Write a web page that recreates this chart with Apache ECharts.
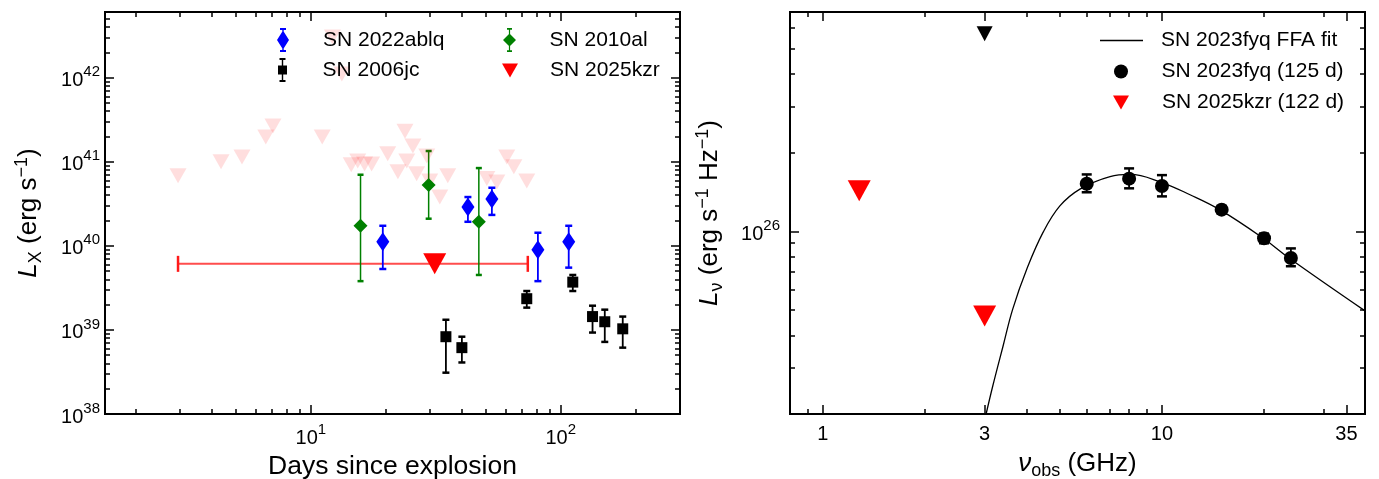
<!DOCTYPE html>
<html>
<head>
<meta charset="utf-8">
<script src="https://cdn.jsdelivr.net/npm/echarts@6/dist/echarts.min.js"></script>
<style>
html, body { margin: 0; padding: 0; background: #fff; }
#main { width: 1379px; height: 479px; }
</style>
</head>
<body>
<div id="main"></div>
<script>
// ---- left panel: X-ray luminosity vs days ----
var ablqDays = [19.4, 42.5, 53, 81, 107.6];
var ablqLum = [1.12e40, 2.9e40, 3.6e40, 9.0e39, 1.12e40];
var ablqLo = [5.3e39, 1.93e40, 2.33e40, 3.8e39, 5.5e39];
var ablqHi = [1.73e40, 3.8e40, 4.9e40, 1.43e40, 1.73e40];

var jcDays = [34.7, 40.2, 73.1, 111.7, 134, 150, 177];
var jcLum = [8.3e38, 6.15e38, 2.35e39, 3.7e39, 1.44e39, 1.25e39, 1.03e39];
var jcLo = [3.1e38, 4.1e38, 1.84e39, 2.9e39, 9.3e38, 7.2e38, 6.15e38];
var jcHi = [1.32e39, 8.3e38, 2.9e39, 4.5e39, 1.94e39, 1.74e39, 1.44e39];

var alDays = [15.8, 29.6, 47];
var alLum = [1.73e40, 5.3e40, 1.93e40];
var alLo = [3.8e39, 2.1e40, 4.5e39];
var alHi = [7.0e40, 1.34e41, 8.4e40];

var kzrDays = [31.3];
var kzrLum = [6.1e39];
var kzrDaysLo = [2.94];
var kzrDaysHi = [73.8];

// faint upper limits (other objects)
var limDays = [2.94, 4.37, 5.3, 6.6, 7.05, 11.1, 12.2, 13.3, 14.5, 15.4, 16.4, 17.5, 20.3, 22.3,
               23.8, 25.6, 24.2, 29.1, 26.5, 29.9, 35.3, 32.8, 50.6, 55.5, 60.8, 64.9, 73.1];
var limLum = [6.8e40, 1.0e41, 1.14e41, 1.97e41, 2.66e41, 1.97e41, 3.03e42, 1.1e42, 9.2e40, 1.02e41,
              9.4e40, 9.4e40, 1.24e41, 7.6e40, 2.3e41, 1.54e41, 1.02e41, 1.17e41, 7.2e40, 5.9e40,
              6.8e40, 3.8e40, 6.3e40, 5.75e40, 1.14e41, 8.7e40, 5.9e40];

// ---- right panel: radio SED ----
var fitNu = [3.03, 3.17, 3.40, 3.63, 4.0, 4.46, 5.0, 5.73, 7.03, 8.05, 9.94, 12.1, 14.8, 19.9, 23.7, 39.7];
var fitLum = [2.0e25, 2.56e25, 3.64e25, 5.04e25, 7.2e25, 9.9e25, 1.25e26, 1.45e26, 1.62e26, 1.65e26,
              1.54e26, 1.38e26, 1.21e26, 9.4e25, 7.9e25, 4.96e25];

var fyqNu = [6, 8, 10, 15, 20, 24];
var fyqLum = [1.52e26, 1.59e26, 1.49e26, 1.21e26, 9.4e25, 7.9e25];
var fyqLo = [1.41e26, 1.46e26, 1.36e26, 1.17e26, 9.0e25, 7.35e25];
var fyqHi = [1.65e26, 1.74e26, 1.64e26, 1.25e26, 9.8e25, 8.6e25];

var fyqLimNu = [3];
var fyqLimLum = [5.7e26];

var kzrRadioNu = [1.28, 3];
var kzrRadioLum = [1.43e26, 4.74e25];

// ticks
var leftXMajor = [10, 100];
var leftYMajor = [1e38, 1e39, 1e40, 1e41, 1e42];
var rightXMajor = [1, 3, 10, 35];
var rightYMajor = [1e26];

var FONT = '"Liberation Sans", Arial, Helvetica, sans-serif';

function lg(v) { return Math.log10(v); }
function pts(xs, ys) { return xs.map(function (x, i) { return [lg(x), lg(ys[i])]; }); }
function vbars(xs, lo, hi) { return xs.map(function (x, i) { return [lg(x), lg(lo[i]), lg(hi[i])]; }); }
function logMinors(lo, hi) {
    var out = [];
    for (var e = Math.floor(lg(lo)); e <= Math.ceil(lg(hi)); e++) {
        for (var m = 2; m <= 9; m++) {
            var v = m * Math.pow(10, e);
            if (v > lo && v < hi) out.push(lg(v));
        }
    }
    return out;
}

var richTick = {
    b: { fontSize: 20, fontFamily: FONT, color: '#000', lineHeight: 26, verticalAlign: 'bottom' },
    s: { fontSize: 15, fontFamily: FONT, color: '#000', lineHeight: 15, verticalAlign: 'top' }
};
function powLabel(v) { return '{b|10}{s|' + Math.round(v) + '}'; }
function plainLabel(v) { return '{b|' + Math.round(Math.pow(10, v)) + '}'; }

var richName = {
    n: { fontSize: 26, fontFamily: FONT, color: '#000', lineHeight: 32 },
    i: { fontSize: 26, fontFamily: FONT, fontStyle: 'italic', color: '#000', lineHeight: 32 },
    sub: { fontSize: 18, fontFamily: FONT, color: '#000', verticalAlign: 'bottom', lineHeight: 24 },
    sup: { fontSize: 18, fontFamily: FONT, color: '#000', verticalAlign: 'top', lineHeight: 20 }
};

// 4 axes per side pair: major+minor on both sides (ticks pointing in)
function axes(dim, grid, min, max, major, minor, fmt, margin, nameCfg) {
    var sides = dim === 'x' ? ['bottom', 'top'] : ['left', 'right'];
    var out = [];
    sides.forEach(function (side, s) {
        [major, minor].forEach(function (vals, k) {
            var ax = {
                type: 'value', gridIndex: grid, position: side, min: min, max: max,
                axisLine: { show: false, onZero: false },
                splitLine: { show: false },
                axisTick: { show: true, inside: true, length: k === 0 ? 9 : 5, customValues: vals,
                            lineStyle: { color: '#000', width: 1.5 } },
                axisLabel: { show: s === 0 && k === 0, customValues: vals, formatter: fmt,
                             rich: richTick, margin: margin, color: '#000' },
                silent: true
            };
            if (s === 0 && k === 0 && nameCfg) Object.assign(ax, nameCfg);
            out.push(ax);
        });
    });
    return out;
}

function errRender(color, width, cap, capWidth, horizontal) {
    return function (params, api) {
        var a, b;
        if (horizontal) {
            a = api.coord([api.value(1), api.value(0)]);
            b = api.coord([api.value(2), api.value(0)]);
        } else {
            a = api.coord([api.value(0), api.value(1)]);
            b = api.coord([api.value(0), api.value(2)]);
        }
        var kids = [{ type: 'line', shape: { x1: a[0], y1: a[1], x2: b[0], y2: b[1] },
                      style: { stroke: color, lineWidth: width } }];
        [a, b].forEach(function (p) {
            kids.push({
                type: 'line',
                shape: horizontal ? { x1: p[0], y1: p[1] - cap, x2: p[0], y2: p[1] + cap }
                                  : { x1: p[0] - cap, y1: p[1], x2: p[0] + cap, y2: p[1] },
                style: { stroke: horizontal ? '#ff1a1a' : color, lineWidth: capWidth }
            });
        });
        return { type: 'group', children: kids };
    };
}

var ICON_BLUE = 'path://M3,0L9,0L9,2L3,2Z M3,22L9,22L9,24L3,24Z M5.3,0L6.7,0L6.7,24L5.3,24Z M6,2.5L12,12L6,21.5L0,12Z';
var ICON_BLACK = 'path://M2,0L8,0L8,2L2,2Z M2,22L8,22L8,24L2,24Z M4.3,0L5.7,0L5.7,24L4.3,24Z M0.5,7.5L9.5,7.5L9.5,16.5L0.5,16.5Z';
var ICON_GREEN = 'path://M4,0L9,0L9,1.8L4,1.8Z M4,22.2L9,22.2L9,24L4,24Z M5.9,0L7.1,0L7.1,24L5.9,24Z M6.5,5.5L13,12L6.5,18.5L0,12Z';
var ICON_TRI = 'path://M0,0L16,0L8,14Z';
var ICON_LINE = 'path://M0,0L43,0L43,1.3L0,1.3Z';

function oneLegend(name, icon, left, top, w, h, pad) {
    return {
        show: true, selectedMode: false, orient: 'vertical', padding: 0,
        left: left, top: top, itemWidth: w, itemHeight: h,
        data: [icon ? { name: name, icon: icon } : { name: name }],
        formatter: function (n) { return '{t|' + n + '}'; },
        textStyle: { rich: { t: { fontSize: 21, fontFamily: FONT, color: '#000', padding: [0, 0, 0, pad] } } }
    };
}

var xAxes = axes('x', 0, lg(1.5), lg(300), leftXMajor.map(lg), logMinors(1.5, 300), powLabel, 8, {
    name: 'Days since explosion', nameLocation: 'middle', nameGap: 36,
    nameTextStyle: { fontSize: 26.5, fontFamily: FONT, color: '#000' }
}).concat(axes('x', 1, lg(0.8), lg(39.7), rightXMajor.map(lg), logMinors(0.8, 39.7), plainLabel, 4, {
    name: '{i|ν}{sub|obs}{n| (GHz)}', nameLocation: 'middle', nameGap: 34,
    nameTextStyle: { rich: richName }
}));

var yAxes = axes('y', 0, 38, 42.78, leftYMajor.map(lg), logMinors(1e38, 6.0e42), powLabel, 5, {
    name: '{i|L}{sub|X}{n| (erg s}{sup|−1}{n|)}', nameLocation: 'middle', nameGap: 60,
    nameTextStyle: { rich: richName }
}).concat(axes('y', 1, lg(2e25), lg(6.9e26), rightYMajor.map(lg), logMinors(2e25, 6.9e26), powLabel, 10, {
    name: '{i|L}{sub|ν}{n| (erg s}{sup|−1}{n| Hz}{sup|−1}{n|)}', nameLocation: 'middle', nameGap: 64,
    nameTextStyle: { rich: richName }
}));

var option = {
    animation: false,
    backgroundColor: '#fff',
    textStyle: { fontFamily: FONT },
    grid: [
        { left: 105, top: 12, width: 575, height: 402, show: true, borderColor: '#000', borderWidth: 2,
          containLabel: false, outerBoundsMode: 'none' },
        { left: 790, top: 12, width: 575, height: 402, show: true, borderColor: '#000', borderWidth: 2,
          containLabel: false, outerBoundsMode: 'none' }
    ],
    xAxis: xAxes,
    yAxis: yAxes,
    legend: [
        oneLegend('SN 2022ablq', ICON_BLUE, 277, 28, 30, 24, 20),
        oneLegend('SN 2006jc', ICON_BLACK, 278, 58, 30, 24, 20),
        oneLegend('SN 2010al', ICON_GREEN, 503, 28, 30, 24, 20),
        oneLegend('SN 2025kzr', ICON_TRI, 502, 60, 30, 14, 20),
        oneLegend('SN 2023fyq FFA fit', ICON_LINE, 1100, 30, 43, 14, 13),
        oneLegend('SN 2023fyq (125 d)', null, 1114, 61, 29, 14, 21),
        oneLegend('SN 2025kzr (122 d)', ICON_TRI, 1113, 92, 30, 14, 21)
    ],
    series: [
        { name: 'limits', type: 'scatter', xAxisIndex: 0, yAxisIndex: 0, symbol: 'triangle', symbolRotate: 180,
          symbolSize: [17, 15], itemStyle: { color: 'rgba(255,0,0,0.13)', opacity: 1 }, data: pts(limDays, limLum) },
        { name: 'kzr err', type: 'custom', xAxisIndex: 0, yAxisIndex: 0,
          renderItem: errRender('#ff4d4d', 2, 8, 2.5, true),
          data: kzrLum.map(function (v, i) { return [lg(v), lg(kzrDaysLo[i]), lg(kzrDaysHi[i])]; }) },
        { name: 'al err', type: 'custom', xAxisIndex: 0, yAxisIndex: 0,
          renderItem: errRender('#008000', 1.5, 3, 2.5, false), data: vbars(alDays, alLo, alHi) },
        { name: 'ablq err', type: 'custom', xAxisIndex: 0, yAxisIndex: 0,
          renderItem: errRender('#0000ff', 1.8, 3.5, 2.5, false), data: vbars(ablqDays, ablqLo, ablqHi) },
        { name: 'jc err', type: 'custom', xAxisIndex: 0, yAxisIndex: 0,
          renderItem: errRender('#000', 1.8, 3.5, 2.5, false), data: vbars(jcDays, jcLo, jcHi) },
        { name: 'SN 2022ablq', type: 'scatter', xAxisIndex: 0, yAxisIndex: 0, symbol: 'diamond',
          symbolSize: [13, 19], itemStyle: { color: '#0000ff', opacity: 1 }, data: pts(ablqDays, ablqLum) },
        { name: 'SN 2006jc', type: 'scatter', xAxisIndex: 0, yAxisIndex: 0, symbol: 'rect',
          symbolSize: 11, itemStyle: { color: '#000', opacity: 1 }, data: pts(jcDays, jcLum) },
        { name: 'SN 2010al', type: 'scatter', xAxisIndex: 0, yAxisIndex: 0, symbol: 'diamond',
          symbolSize: [14, 14], itemStyle: { color: '#008000', opacity: 1 }, data: pts(alDays, alLum) },
        { name: 'SN 2025kzr', type: 'scatter', xAxisIndex: 0, yAxisIndex: 0, symbol: 'triangle', symbolRotate: 180,
          symbolSize: [23, 21], itemStyle: { color: '#ff0000', opacity: 1 }, data: pts(kzrDays, kzrLum) },

        { name: 'SN 2023fyq FFA fit', type: 'line', xAxisIndex: 4, yAxisIndex: 4, smooth: 0.4,
          symbol: 'none', showSymbol: false, lineStyle: { color: '#000', width: 1.3 }, itemStyle: { color: '#000' },
          data: pts(fitNu, fitLum) },
        { name: 'fyq err', type: 'custom', xAxisIndex: 4, yAxisIndex: 4,
          renderItem: errRender('#000', 1.8, 5, 2.5, false), data: vbars(fyqNu, fyqLo, fyqHi) },
        { name: 'SN 2023fyq (125 d)', type: 'scatter', xAxisIndex: 4, yAxisIndex: 4, symbol: 'circle',
          symbolSize: 14, itemStyle: { color: '#000', opacity: 1 }, data: pts(fyqNu, fyqLum) },
        { name: 'fyq limit', type: 'scatter', xAxisIndex: 4, yAxisIndex: 4, symbol: 'triangle', symbolRotate: 180,
          symbolSize: [16, 15], itemStyle: { color: '#000', opacity: 1 }, data: pts(fyqLimNu, fyqLimLum) },
        { name: 'SN 2025kzr (122 d)', type: 'scatter', xAxisIndex: 4, yAxisIndex: 4, symbol: 'triangle', symbolRotate: 180,
          symbolSize: [23, 21], itemStyle: { color: '#ff0000', opacity: 1 }, data: pts(kzrRadioNu, kzrRadioLum) }
    ]
};

var myChart = echarts.init(document.getElementById('main'));
myChart.setOption(option);
</script>
</body>
</html>
